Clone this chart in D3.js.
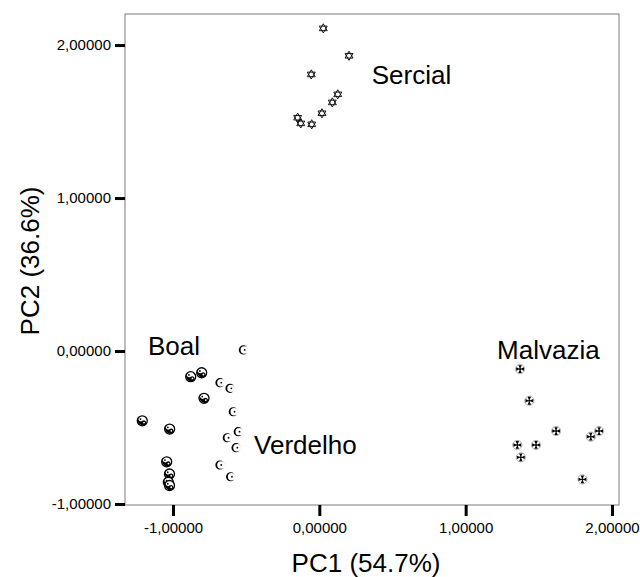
<!DOCTYPE html>
<html>
<head>
<meta charset="utf-8">
<script src="https://cdn.jsdelivr.net/npm/d3@7"></script>
<style>
  body { margin: 0; background: #fff; }
  text { font-family: "Liberation Sans", Arial, sans-serif; }
</style>
</head>
<body>
<svg id="chart" width="640" height="577"></svg>
<script>
// ---- data ----
const sercialPC1 = [0.027, 0.203, -0.055, 0.126, 0.089, 0.018, -0.148, -0.127, -0.052];
const sercialPC2 = [2.109, 1.930, 1.808, 1.678, 1.625, 1.554, 1.525, 1.488, 1.482];

const boalPC1 = [-1.210, -0.879, -0.804, -0.788, -1.023, -1.043, -1.024, -1.032, -1.024];
const boalPC2 = [-0.456, -0.168, -0.142, -0.309, -0.510, -0.724, -0.804, -0.858, -0.879];

const verdelhoPC1 = [-0.519, -0.679, -0.610, -0.588, -0.554, -0.629, -0.569, -0.679, -0.606];
const verdelhoPC2 = [0.007, -0.207, -0.244, -0.397, -0.527, -0.567, -0.632, -0.745, -0.822];

const malvaziaPC1 = [1.372, 1.435, 1.618, 1.912, 1.855, 1.353, 1.481, 1.377, 1.798];
const malvaziaPC2 = [-0.118, -0.325, -0.523, -0.523, -0.560, -0.614, -0.614, -0.695, -0.839];

const groupNames = ["Sercial", "Boal", "Verdelho", "Malvazia"];
const labelPC1 = [0.358, -1.171, -0.446, 1.215];
const labelPC2 = [1.748, -0.026, -0.673, -0.052];

const xTicks = [-1, 0, 1, 2];
const yTicks = [-1, 0, 1, 2];
const xTitle = "PC1 (54.7%)";
const yTitle = "PC2 (36.6%)";

// ---- layout ----
const svg = d3.select("#chart");
const L = 125, R = 619, T = 14, B = 505;
const x = d3.scaleLinear().domain([-1.328, 2.048]).range([L, R]);
const y = d3.scaleLinear().domain([-1.0065, 2.203]).range([B, T]);
const fmt = v => d3.format(".5f")(v).replace(".", ",").replace("−", "-");

// frame
svg.append("rect").attr("x", L).attr("y", T).attr("width", R - L).attr("height", B - T)
  .attr("fill", "#fff").attr("stroke", "#7a7a7a").attr("stroke-width", 1);

// axes
const xAxis = d3.axisBottom(x).tickValues(xTicks).tickSize(11).tickPadding(6).tickFormat(fmt);
const gx = svg.append("g").attr("transform", `translate(0,${B})`).call(xAxis);
gx.select(".domain").remove();
gx.selectAll(".tick line").attr("stroke", "#000").attr("stroke-width", 3);
gx.selectAll(".tick text").attr("font-size", 15).attr("fill", "#000")
  .attr("font-family", "'Liberation Sans', Arial, sans-serif");

const yAxis = d3.axisLeft(y).tickValues(yTicks).tickSize(10).tickPadding(4).tickFormat(fmt);
const gy = svg.append("g").attr("transform", `translate(${L},0)`).call(yAxis);
gy.select(".domain").remove();
gy.selectAll(".tick line").attr("stroke", "#000").attr("stroke-width", 3);
gy.selectAll(".tick text").attr("font-size", 15).attr("fill", "#000")
  .attr("font-family", "'Liberation Sans', Arial, sans-serif");

// titles
svg.append("text").attr("x", 366).attr("y", 572).attr("text-anchor", "middle")
  .attr("font-size", 26).text(xTitle);
svg.append("text").attr("transform", "translate(39,261) rotate(-90)").attr("text-anchor", "middle")
  .attr("font-size", 26).text(yTitle);

// ---- marker drawers ----
const r = 4.6;
function hexagram(g) {
  const h = r * 0.866;
  g.append("path").attr("d", `M0,${-r}L${h},${r/2}L${-h},${r/2}Z`)
    .attr("fill", "none").attr("stroke", "#000").attr("stroke-width", 0.9);
  g.append("path").attr("d", `M0,${r}L${h},${-r/2}L${-h},${-r/2}Z`)
    .attr("fill", "none").attr("stroke", "#000").attr("stroke-width", 0.9);
}
function yinyang(g) {
  const rr = 5;
  g.append("circle").attr("r", rr).attr("fill", "#fff").attr("stroke", "#000").attr("stroke-width", 1.3);
  g.append("path")
    .attr("d", `M${-rr*0.7},${-rr*0.7}A${rr},${rr} 0 0 0 ${rr*0.7},${rr*0.7}A${rr/2},${rr/2} 0 0 0 0,0A${rr/2},${rr/2} 0 0 1 ${-rr*0.7},${-rr*0.7}Z`)
    .attr("fill", "#000");
  g.append("circle").attr("cx", rr*0.35).attr("cy", rr*0.35).attr("r", 0.9).attr("fill", "#fff");
  g.append("circle").attr("cx", -rr*0.35).attr("cy", -rr*0.35).attr("r", 0.9).attr("fill", "#000");
}
function crescent(g) {
  const ri = 3.7, off = 0.9;
  g.append("path")
    .attr("d", `M${-r},0A${r},${r} 0 1 0 ${r},0A${r},${r} 0 1 0 ${-r},0Z` +
               `M${off - ri},0A${ri},${ri} 0 1 0 ${off + ri},0A${ri},${ri} 0 1 0 ${off - ri},0Z`)
    .attr("fill", "#000").attr("fill-rule", "evenodd");
  g.append("circle").attr("cx", 1.3).attr("cy", 0).attr("r", 0.9).attr("fill", "#000");
}
function cross(g) {
  g.append("circle").attr("r", r).attr("fill", "#fff").attr("stroke", "#9a9a9a").attr("stroke-width", 0.8);
  const a = 1.7, e = 3.9;
  const p = `M0,0L${-a},${-e}L${a},${-e}Z M0,0L${-a},${e}L${a},${e}Z M0,0L${-e},${-a}L${-e},${a}Z M0,0L${e},${-a}L${e},${a}Z`;
  g.append("path").attr("d", p).attr("fill", "#000");
  g.append("rect").attr("x", -0.9).attr("y", -0.9).attr("width", 1.8).attr("height", 1.8).attr("fill", "#000");
}

function drawGroup(xs, ys, drawer, cls) {
  const pts = xs.map((v, i) => ({ pc1: v, pc2: ys[i] }));
  svg.append("g").attr("class", cls).selectAll("g").data(pts).join("g")
    .attr("transform", d => `translate(${x(d.pc1)},${y(d.pc2)})`)
    .each(function () { drawer(d3.select(this)); });
}
drawGroup(sercialPC1, sercialPC2, hexagram, "sercial");
drawGroup(boalPC1, boalPC2, yinyang, "boal");
drawGroup(verdelhoPC1, verdelhoPC2, crescent, "verdelho");
drawGroup(malvaziaPC1, malvaziaPC2, cross, "malvazia");

// group labels
svg.append("g").selectAll("text").data(groupNames).join("text")
  .attr("x", (d, i) => x(labelPC1[i])).attr("y", (d, i) => y(labelPC2[i]))
  .attr("font-size", 26).attr("fill", "#000").text(d => d);
</script>
</body>
</html>
